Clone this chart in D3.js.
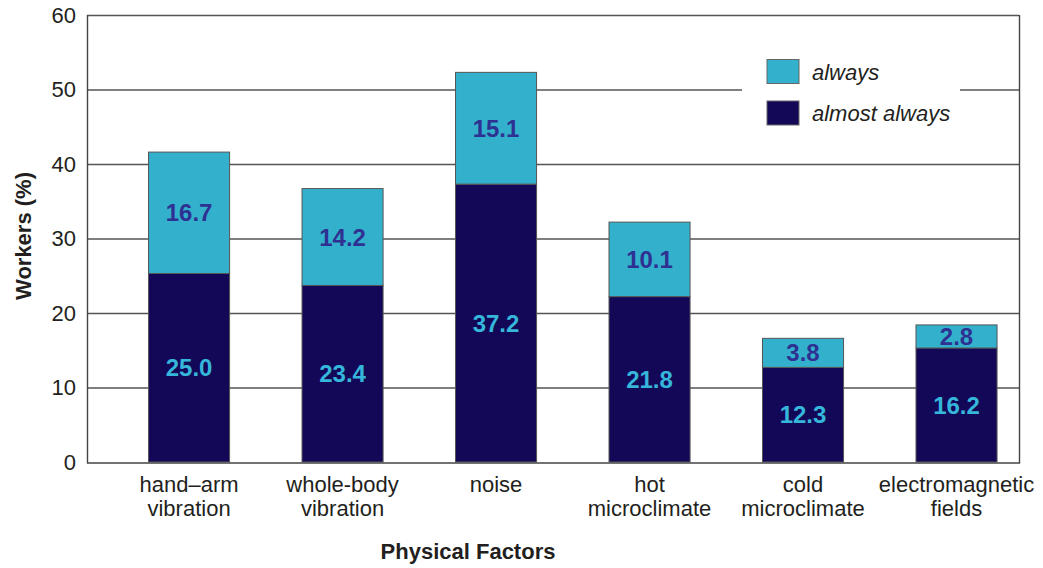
<!DOCTYPE html>
<html>
<head>
<meta charset="utf-8">
<script src="https://cdn.jsdelivr.net/npm/d3@7/dist/d3.min.js"></script>
<style>
  html, body { margin: 0; padding: 0; background: #fff; }
  svg { display: block; font-family: "Liberation Sans", Arial, Helvetica, sans-serif; }
</style>
</head>
<body>
<svg id="chart" width="1043" height="568"></svg>
<script>
// ---- data ----
const categories = ["hand–arm vibration", "whole-body vibration", "noise", "hot microclimate", "cold microclimate", "electromagnetic fields"];
const categoryLines = [["hand–arm", "vibration"], ["whole-body", "vibration"], ["noise"], ["hot", "microclimate"], ["cold", "microclimate"], ["electromagnetic", "fields"]];
const almostAlways = [25.3, 23.7, 37.3, 22.2, 12.7, 15.3];
const always = [16.3, 13.0, 15.0, 10.0, 3.9, 3.1];
const almostAlwaysLabels = ["25.0", "23.4", "37.2", "21.8", "12.3", "16.2"];
const alwaysLabels = ["16.7", "14.2", "15.1", "10.1", "3.8", "2.8"];
const yTicks = [0, 10, 20, 30, 40, 50, 60];
const seriesNames = ["always", "almost always"];

// ---- styles ----
const cLight = "#33b1cc", cDark = "#130857";
const cLabelOnLight = "#2e3192", cLabelOnDark = "#35b6da";
const cText = "#231f20";

const svg = d3.select("#chart");
const pLeft = 87, pRight = 1019, pTop = 15, pBottom = 462;

const x = d3.scaleBand().domain(categories).range([pLeft, pRight])
  .paddingInner(0.472).paddingOuter(0.272).align(0.737);
const y = d3.scaleLinear().domain([0, 60]).range([pBottom, pTop]);

// gridlines
svg.append("g").selectAll("line").data(yTicks.filter(d => d > 0)).join("line")
  .attr("x1", pLeft).attr("x2", pRight)
  .attr("y1", d => y(d) + 0.5).attr("y2", d => y(d) + 0.5)
  .attr("stroke", "#555").attr("stroke-width", 1.3);

// frame
svg.append("path")
  .attr("d", `M${pLeft + 0.5},${y(60)} V${y(0) + 1} H${pRight + 0.5} V${y(60)}`)
  .attr("fill", "none").attr("stroke", "#444").attr("stroke-width", 1.4);

// legend box (white background)
svg.append("rect").attr("x", 742).attr("y", 40).attr("width", 218).attr("height", 100).attr("fill", "#fff");

// stacked data
const stackData = categories.map((c, i) => ({ cat: c, almost: almostAlways[i], always: always[i] }));
const stack = d3.stack().keys(["almost", "always"])(stackData);
const colors = { almost: cDark, always: cLight };
const labelArrays = { almost: almostAlwaysLabels, always: alwaysLabels };
const labelColors = { almost: cLabelOnDark, always: cLabelOnLight };

stack.forEach(layer => {
  svg.append("g").selectAll("rect").data(layer).join("rect")
    .attr("x", d => x(d.data.cat))
    .attr("width", x.bandwidth())
    .attr("y", d => y(d[1]))
    .attr("height", d => y(d[0]) - y(d[1]))
    .attr("fill", colors[layer.key])
    .attr("stroke", "#555").attr("stroke-width", 1);
});
stack.forEach(layer => {
  svg.append("g").selectAll("text").data(layer).join("text")
    .attr("x", d => x(d.data.cat) + x.bandwidth() / 2)
    .attr("y", d => (y(d[0]) + y(d[1])) / 2)
    .attr("dy", "0.36em")
    .attr("text-anchor", "middle")
    .attr("font-weight", "bold").attr("font-size", 24)
    .attr("fill", labelColors[layer.key])
    .text((d, i) => labelArrays[layer.key][i]);
});

// y tick labels
svg.append("g").selectAll("text").data(yTicks).join("text")
  .attr("x", 76).attr("y", d => y(d)).attr("dy", "0.36em")
  .attr("text-anchor", "end").attr("font-size", 22).attr("fill", cText)
  .text(d => d);

// x category labels
const xl = svg.append("g").selectAll("text").data(categories).join("text")
  .attr("text-anchor", "middle").attr("font-size", 22).attr("fill", cText);
xl.each(function (c, i) {
  const t = d3.select(this);
  categoryLines[i].forEach((line, j) => {
    t.append("tspan").attr("x", x(c) + x.bandwidth() / 2).attr("y", 492 + j * 23.5).text(line);
  });
});

// axis titles
svg.append("text").attr("x", 468).attr("y", 559).attr("text-anchor", "middle")
  .attr("font-weight", "bold").attr("font-size", 22).attr("fill", cText).text("Physical Factors");
svg.append("text").attr("transform", "translate(31,236) rotate(-90)").attr("text-anchor", "middle")
  .attr("font-weight", "bold").attr("font-size", 22).attr("fill", cText).text("Workers (%)");

// legend
const legendColors = [cLight, cDark];
const lg = svg.append("g").selectAll("g").data(seriesNames).join("g")
  .attr("transform", (d, i) => `translate(767,${59.5 + i * 41.5})`);
lg.append("rect").attr("width", 32).attr("height", 24)
  .attr("fill", (d, i) => legendColors[i]).attr("stroke", "#666").attr("stroke-width", 1);
lg.append("text").attr("x", 45).attr("y", 20).attr("font-size", 22).attr("font-style", "italic")
  .attr("fill", cText).text(d => d);
</script>
</body>
</html>
